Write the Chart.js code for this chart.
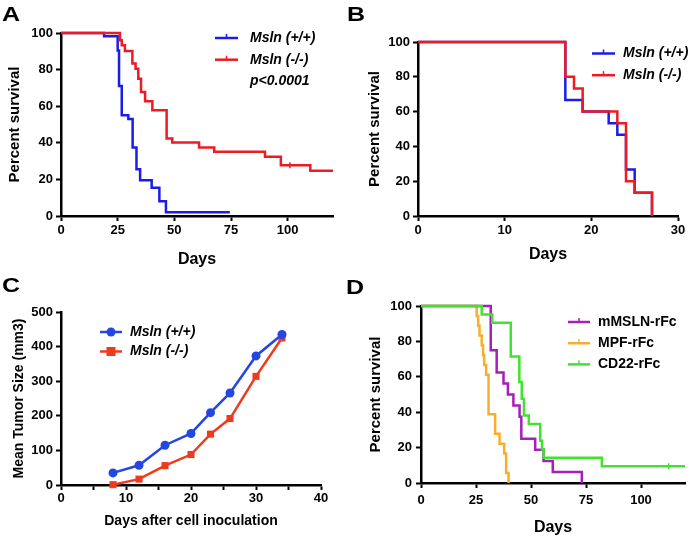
<!DOCTYPE html>
<html>
<head>
<meta charset="utf-8">
<script src="https://cdn.jsdelivr.net/npm/chart.js@4.4.1/dist/chart.umd.min.js"></script>
<style>
  body { margin: 0; background: #fff; }
  #fig { position: relative; width: 693px; height: 538px; font-family: "Liberation Sans", Arial, Helvetica, sans-serif; }
  #fig canvas { position: absolute; }
  .tag { position: absolute; font-size: 20px; font-weight: bold; line-height: 20px; transform: scaleX(1.25); transform-origin: left top; }
</style>
</head>
<body>
<div id="fig">
  <canvas id="chartA" width="346" height="269" style="left:0;top:0"></canvas>
  <canvas id="chartB" width="347" height="269" style="left:346px;top:0"></canvas>
  <canvas id="chartC" width="346" height="269" style="left:0;top:269px"></canvas>
  <canvas id="chartD" width="347" height="269" style="left:346px;top:269px"></canvas>
  <div class="tag" style="left:2px;top:4px">A</div>
  <div class="tag" style="left:347px;top:4px">B</div>
  <div class="tag" style="left:2px;top:275px">C</div>
  <div class="tag" style="left:346px;top:277px">D</div>
</div>
<script>
// A: survival, Msln +/+ vs -/-
const aDaysWT = [0, 19, 25, 25.6, 26.8, 29.7, 31.6, 33.3, 34.9, 40, 43.4, 46.3, 74.5];
const aSurvWT = [100, 98.2, 90.5, 71, 55, 53, 37.5, 25.5, 19.5, 15.5, 8, 2, 2];
const aDaysKO = [0, 26, 26.8, 28.2, 31.5, 32.9, 34.1, 35.3, 37.1, 40.3, 46.6, 49.1, 60.9, 67.6, 90, 97, 110, 120];
const aSurvKO = [100, 96, 93.3, 90.2, 83.3, 80.5, 75, 67.8, 62.7, 57.8, 42.4, 40.2, 37.5, 35.1, 32.4, 27.8, 24.7, 24.7];
const aCensorDaysKO = [101];
const aCensorSurvKO = [27.8];

// B: survival, second cohort
const bDaysWT = [0, 17, 19, 22, 23, 24, 25, 27];
const bSurvWT = [100, 66.7, 60, 53.3, 46.7, 26.7, 13.3, 0];
const bDaysKO = [0, 17, 18, 19, 23, 24, 25, 27];
const bSurvKO = [100, 80, 73.3, 60, 53.3, 20, 13.3, 0];

// C: tumour growth
const cDays = [8, 12, 16, 20, 23, 26, 30, 34];
const cSizeWT = [35, 57, 115, 149, 209, 266, 373, 435];
const cSizeKO = [1, 17, 56, 88, 147, 192, 314, 425];

// D: survival by treatment
const dDaysMSLN = [0, 31.7, 34.4, 37.5, 39.5, 42, 44.8, 45.6, 51.9, 55.7, 59.9, 73.1];
const dSurvMSLN = [100, 75, 62.5, 56.25, 50, 43.75, 37.5, 25, 18.75, 12.5, 6.25, 0];
const dDaysMPF = [0, 25.3, 26, 26.6, 27.6, 28.2, 28.7, 29.6, 30.7, 33.7, 35.7, 37.8, 38.7, 39.8];
const dSurvMPF = [100, 94.4, 88.9, 83.3, 77.8, 72.2, 66.7, 61.1, 38.9, 27.8, 22.2, 16.7, 5.6, 0];
const dDaysCD22 = [0, 27.6, 32.4, 40.8, 44.7, 45.8, 46.8, 49, 54.2, 55, 55.7, 82.2, 120];
const dSurvCD22 = [100, 95.2, 90.5, 71.4, 57.1, 47.6, 38.1, 33.3, 23.8, 19, 14.3, 9.5, 9.5];
const dCensorDaysCD22 = [112.6];
const dCensorSurvCD22 = [9.5];

const FONT = '"Liberation Sans", Arial, Helvetica, sans-serif';
const BLUE = '#1c1ce8', RED = '#ec1c22';
const C_BLUE = '#2446e2', C_RED = '#ee3b1f';
const PURPLE = '#a51fb9', ORANGE = '#f8ae2b', GREEN = '#3fe52c';

const pts = (xs, ys) => xs.map((x, i) => ({ x, y: ys[i] }));

function km(label, xs, ys, color, order) {
  return { label, data: pts(xs, ys), borderColor: color, backgroundColor: color, borderWidth: 2.5,
    stepped: true, pointRadius: 0, clip: false, order };
}

function censor(xs, ys, color) {
  return { data: pts(xs, ys), showLine: false, pointStyle: 'line', rotation: 90, pointRadius: 3,
    borderColor: color, pointBorderWidth: 1.5, clip: false, order: -1 };
}

function axis(o) {
  return {
    type: 'linear', min: o.min, max: o.max,
    border: { display: true, color: '#000', width: 2.5 },
    grid: { drawOnChartArea: false, drawTicks: true, tickLength: 5, tickWidth: 2, tickColor: '#000', color: '#000' },
    ticks: {
      stepSize: o.step, includeBounds: false, autoSkip: false, maxRotation: 0, color: '#000', padding: o.pad,
      font: { family: FONT, size: 13, weight: 'bold' },
      callback: v => (o.every && v % o.every !== 0) ? '' : v
    },
    title: { display: true, text: o.title, color: '#000', font: { family: FONT, size: o.titleSize, weight: 'bold' },
      padding: o.titlePad },
    afterFit: s => { if (s.isHorizontal()) s.height = o.size; else s.width = o.size; }
  };
}

// legend drawn inside the plot, GraphPad style
function key(items, x, y, gap, len, textX, font) {
  return {
    id: 'key',
    afterDatasetsDraw(chart) {
      const ctx = chart.ctx;
      ctx.save();
      items.forEach((it, i) => {
        const yy = y + i * gap;
        if (it.color) {
          ctx.strokeStyle = it.color;
          ctx.fillStyle = it.color;
          ctx.lineWidth = 2.5;
          ctx.beginPath(); ctx.moveTo(x, yy); ctx.lineTo(x + len, yy); ctx.stroke();
          const cx = x + len / 2;
          if (it.marker === 'circle') {
            ctx.beginPath(); ctx.arc(cx, yy, 4.5, 0, Math.PI * 2); ctx.fill();
          } else if (it.marker === 'rect') {
            ctx.fillRect(cx - 4.5, yy - 4.5, 9, 9);
          } else {
            ctx.lineWidth = 1.5;
            ctx.beginPath(); ctx.moveTo(cx, yy); ctx.lineTo(cx, yy - 4); ctx.stroke();
          }
        }
        ctx.fillStyle = '#000';
        ctx.font = it.font || font;
        ctx.textBaseline = 'middle';
        ctx.fillText(it.label, textX, yy);
      });
      ctx.restore();
    }
  };
}

function baseOptions(padding, x, y) {
  return {
    responsive: false, animation: false, events: [],
    layout: { padding },
    plugins: { legend: { display: false }, tooltip: { enabled: false } },
    scales: { x, y }
  };
}

const ITAL = 'italic bold 14px ' + FONT;

new Chart(document.getElementById('chartA'), {
  type: 'line',
  data: { datasets: [
    km('Msln (-/-)', aDaysKO, aSurvKO, RED, 0),
    km('Msln (+/+)', aDaysWT, aSurvWT, BLUE, 1),
    censor(aCensorDaysKO, aCensorSurvKO, RED)
  ] },
  options: baseOptions({ top: 33, right: 13, left: 0, bottom: 0 },
    axis({ min: 0, max: 120, step: 25, pad: 2, title: 'Days', titleSize: 16, titlePad: { top: 0, bottom: 0 }, size: 53 }),
    axis({ min: 0, max: 100, step: 20, pad: 3, title: 'Percent survival', titleSize: 15, titlePad: { top: 6, bottom: 0 }, size: 61 })),
  plugins: [key([
    { label: 'Msln (+/+)', color: BLUE },
    { label: 'Msln (-/-)', color: RED },
    { label: 'p<0.0001' }
  ], 215, 38, 21.7, 23, 250, ITAL)]
});

new Chart(document.getElementById('chartB'), {
  type: 'line',
  data: { datasets: [
    km('Msln (-/-)', bDaysKO, bSurvKO, RED, 0),
    km('Msln (+/+)', bDaysWT, bSurvWT, BLUE, 1)
  ] },
  options: baseOptions({ top: 42, right: 15, left: 0, bottom: 0 },
    axis({ min: 0, max: 30, step: 10, pad: 2, title: 'Days', titleSize: 16, titlePad: { top: 0, bottom: 5 }, size: 53 }),
    axis({ min: 0, max: 100, step: 20, pad: 3, title: 'Percent survival', titleSize: 15, titlePad: { top: 20, bottom: 0 }, size: 72 })),
  plugins: [key([
    { label: 'Msln (+/+)', color: BLUE },
    { label: 'Msln (-/-)', color: RED }
  ], 246, 53.5, 21.7, 23, 277, ITAL)]
});

new Chart(document.getElementById('chartC'), {
  type: 'line',
  data: { datasets: [
    { label: 'Msln (+/+)', data: pts(cDays, cSizeWT), borderColor: C_BLUE, backgroundColor: C_BLUE, borderWidth: 2.5,
      pointStyle: 'circle', pointRadius: 4.5, pointBorderWidth: 0, tension: 0, clip: false, order: 0 },
    { label: 'Msln (-/-)', data: pts(cDays, cSizeKO), borderColor: C_RED, backgroundColor: C_RED, borderWidth: 2.5,
      pointStyle: 'rect', pointRadius: 5, pointBorderWidth: 0, tension: 0, clip: false, order: 1 }
  ] },
  options: baseOptions({ top: 43, right: 25, left: 0, bottom: 0 },
    axis({ min: 0, max: 40, step: 5, every: 10, pad: 1, title: 'Days after cell inoculation', titleSize: 14, titlePad: { top: 0, bottom: 8.5 }, size: 53 }),
    axis({ min: 0, max: 500, step: 100, pad: 3, title: 'Mean Tumor Size (mm3)', titleSize: 14, titlePad: { top: 10.5, bottom: 0 }, size: 61 })),
  plugins: [key([
    { label: 'Msln (+/+)', color: C_BLUE, marker: 'circle' },
    { label: 'Msln (-/-)', color: C_RED, marker: 'rect' }
  ], 100, 63, 19.5, 22, 130, ITAL)]
});

new Chart(document.getElementById('chartD'), {
  type: 'line',
  data: { datasets: [
    km('CD22-rFc', dDaysCD22, dSurvCD22, GREEN, 0),
    km('mMSLN-rFc', dDaysMSLN, dSurvMSLN, PURPLE, 1),
    km('MPF-rFc', dDaysMPF, dSurvMPF, ORANGE, 2),
    censor(dCensorDaysCD22, dCensorSurvCD22, GREEN)
  ] },
  options: baseOptions({ top: 37, right: 8, left: 0, bottom: 0 },
    axis({ min: 0, max: 120, step: 25, pad: 4.5, title: 'Days', titleSize: 16, titlePad: { top: 0, bottom: 1 }, size: 55 }),
    axis({ min: 0, max: 100, step: 20, pad: 4, title: 'Percent survival', titleSize: 15, titlePad: { top: 21, bottom: 0 }, size: 75 })),
  plugins: [key([
    { label: 'mMSLN-rFc', color: PURPLE },
    { label: 'MPF-rFc', color: ORANGE },
    { label: 'CD22-rFc', color: GREEN }
  ], 222, 53, 21.2, 22, 252, 'bold 14px ' + FONT)]
});
</script>
</body>
</html>
